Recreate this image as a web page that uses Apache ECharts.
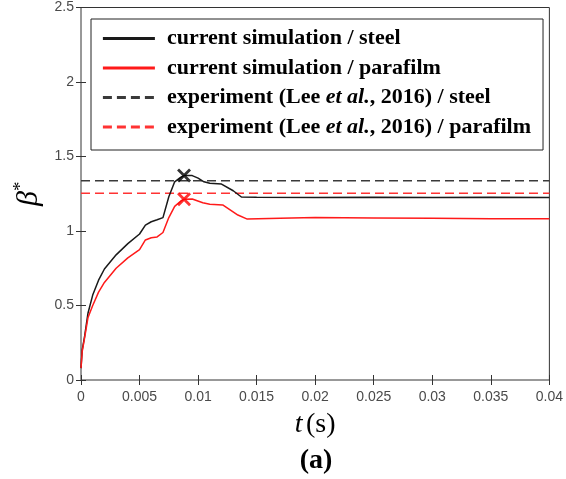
<!DOCTYPE html>
<html>
<head>
<meta charset="utf-8">
<script src="https://cdn.jsdelivr.net/npm/echarts@6/dist/echarts.min.js"></script>
<style>
html,body{margin:0;padding:0;background:#fff;}
#c{width:566px;height:479px;}
</style>
</head>
<body>
<div id="c"></div>
<script>
// time (s)
var tSteel = [0, 0.0001, 0.0003, 0.0006, 0.001, 0.0015, 0.002, 0.003, 0.004, 0.005, 0.0055, 0.006, 0.0065, 0.007, 0.0075, 0.008, 0.0085, 0.0088, 0.0095, 0.010, 0.0105, 0.011, 0.012, 0.013, 0.0137, 0.015, 0.02, 0.025, 0.03, 0.035, 0.04];
var betaSteel = [0.08, 0.2, 0.29, 0.45, 0.57, 0.67, 0.745, 0.84, 0.915, 0.98, 1.04, 1.062, 1.075, 1.09, 1.23, 1.33, 1.36, 1.372, 1.372, 1.355, 1.33, 1.32, 1.315, 1.27, 1.228, 1.226, 1.225, 1.226, 1.225, 1.226, 1.225];
var tPara = [0, 0.0001, 0.0003, 0.0006, 0.001, 0.0015, 0.002, 0.003, 0.004, 0.005, 0.0055, 0.006, 0.0065, 0.007, 0.0075, 0.008, 0.0085, 0.0088, 0.0095, 0.0104, 0.011, 0.0121, 0.0134, 0.0142, 0.017, 0.02, 0.025, 0.03, 0.035, 0.04];
var betaPara = [0.08, 0.19, 0.28, 0.42, 0.5, 0.59, 0.655, 0.75, 0.82, 0.875, 0.94, 0.955, 0.96, 0.99, 1.09, 1.165, 1.2, 1.213, 1.215, 1.19, 1.18, 1.175, 1.107, 1.08, 1.085, 1.09, 1.088, 1.085, 1.083, 1.082];
var expSteel = 1.338;
var expPara = 1.253;
var peakT = 0.0088;
var peakSteel = 1.372;
var peakPara = 1.213;
var xTicks = {min: 0, max: 0.04, interval: 0.005};
var yTicks = {min: 0, max: 2.5, interval: 0.5};
var names = ['current simulation / steel', 'current simulation / parafilm', 'experiment (Lee et al., 2016) / steel', 'experiment (Lee et al., 2016) / parafilm'];

function zip(a, b) { return a.map(function (v, i) { return [v, b[i]]; }); }

var chart = echarts.init(document.getElementById('c'), null, {renderer: 'canvas'});
var serif = '"Liberation Serif", "Times New Roman", serif';
var sans = '"Liberation Sans", Arial, sans-serif';
var crossPath = 'path://M0,0L10,10M10,0L0,10';

var axisCommon = {
  type: 'value',
  splitLine: {show: false},
  axisLine: {show: false},
  axisTick: {show: true, inside: true, length: 5, lineStyle: {color: '#333', width: 1}}
};

var option = {
  animation: false,
  backgroundColor: '#fff',
  grid: {left: 81, right: 15, top: 7.5, bottom: 99, show: true, borderColor: '#333', borderWidth: 1, backgroundColor: '#fff'},
  xAxis: [
    Object.assign({}, axisCommon, {
      min: xTicks.min, max: xTicks.max, interval: xTicks.interval,
      axisLabel: {color: '#4a4a4a', fontFamily: sans, fontSize: 14, margin: 10},
      name: '{i|t} {n|(s)}', nameLocation: 'middle', nameGap: 31,
      nameTextStyle: {rich: {i: {fontFamily: serif, fontStyle: 'italic', fontSize: 28, color: '#000'}, n: {fontFamily: serif, fontSize: 28, color: '#000'}}}
    }),
    Object.assign({}, axisCommon, {
      position: 'top', min: xTicks.min, max: xTicks.max, interval: xTicks.interval,
      axisLabel: {show: false}
    })
  ],
  yAxis: [
    Object.assign({}, axisCommon, {
      min: yTicks.min, max: yTicks.max, interval: yTicks.interval,
      axisLabel: {color: '#4a4a4a', fontFamily: sans, fontSize: 14, margin: 7},
      name: '{i|β}{s|*}', nameLocation: 'middle', nameGap: 32, nameRotate: 90,
      nameTextStyle: {rich: {i: {fontFamily: serif, fontStyle: 'italic', fontSize: 30, color: '#000'}, s: {fontFamily: serif, fontSize: 19, color: '#000', padding: [0, 0, 15, 0]}}}
    }),
    Object.assign({}, axisCommon, {
      position: 'right', min: yTicks.min, max: yTicks.max, interval: yTicks.interval,
      axisLabel: {show: false}
    })
  ],
  legend: {
    data: names,
    orient: 'vertical',
    left: 91, top: 19,
    padding: [8.5, 12, 12, 10.5],
    itemGap: 7.5,
    itemWidth: 52, itemHeight: 20,
    backgroundColor: '#fff',
    borderColor: '#222', borderWidth: 1, borderRadius: 0,
    itemStyle: {opacity: 0},
    lineStyle: {width: 2.8},
    formatter: function (n) { return n.replace('et al.', '{it|et al.}'); },
    textStyle: {
      fontFamily: serif, fontWeight: 'bold', fontSize: 22, color: '#000', lineHeight: 20,
      padding: [0, 0, 0, 7],
      rich: {it: {fontFamily: serif, fontWeight: 'bold', fontStyle: 'italic', fontSize: 22, color: '#000', lineHeight: 20}}
    }
  },
  series: [
    {name: names[0], type: 'line', data: zip(tSteel, betaSteel), symbol: 'none', lineStyle: {color: '#1a1a1a', width: 1.5}, itemStyle: {color: '#1a1a1a'}, z: 4},
    {name: names[1], type: 'line', data: zip(tPara, betaPara), symbol: 'none', lineStyle: {color: '#ff1a1a', width: 1.5}, itemStyle: {color: '#ff1a1a'}, z: 4},
    {name: names[2], type: 'line', data: [[xTicks.min, expSteel], [xTicks.max, expSteel]], symbol: 'none', lineStyle: {color: '#3a3a3a', width: 1.5, type: [9, 5]}, itemStyle: {color: '#000'}, z: 3},
    {name: names[3], type: 'line', data: [[xTicks.min, expPara], [xTicks.max, expPara]], symbol: 'none', lineStyle: {color: '#ff3333', width: 1.5, type: [9, 5]}, itemStyle: {color: '#ff1a1a'}, z: 3},
    {type: 'scatter', data: [[peakT, peakSteel]], symbol: crossPath, symbolSize: 12, itemStyle: {color: 'none', borderColor: '#000', borderWidth: 2.8}, z: 6},
    {type: 'scatter', data: [[peakT, peakPara]], symbol: crossPath, symbolSize: 12, itemStyle: {color: 'none', borderColor: '#ff0000', borderWidth: 2.8}, z: 6}
  ],
  graphic: [
    {type: 'text', x: 316, y: 461, style: {text: '(a)', fontFamily: serif, fontWeight: 'bold', fontSize: 28, fill: '#000', align: 'center', verticalAlign: 'middle'}}
  ]
};
chart.setOption(option);
</script>
</body>
</html>
